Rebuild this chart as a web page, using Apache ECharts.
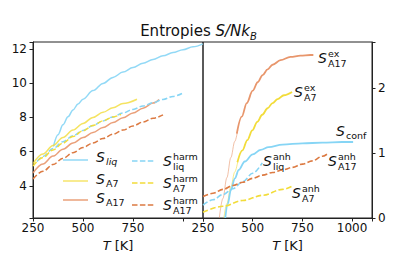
<!DOCTYPE html>
<html><head><meta charset="utf-8">
<script src="https://cdn.jsdelivr.net/npm/echarts@6/dist/echarts.min.js"></script>
<style>html,body{margin:0;padding:0;background:#fff}#c{width:397px;height:264px}</style>
</head><body><div id="c"></div>
<script>
// ---------- Left panel: total entropies ----------
const liqT = [352, 375, 400, 425, 450, 475, 500, 550, 600, 650, 700, 750, 800, 850, 900, 950, 1000, 1050, 1100];
const liqS = [6.3, 6.99, 7.57, 8.04, 8.44, 8.78, 9.07, 9.57, 9.99, 10.34, 10.65, 10.92, 11.17, 11.39, 11.6, 11.79, 11.96, 12.13, 12.3];
const a7T = [250, 300, 350, 400, 450, 500, 550, 600, 650, 700, 770];
const a7S = [5.3, 5.86, 6.36, 6.83, 7.26, 7.65, 8.0, 8.3, 8.57, 8.81, 9.06];
const a17T = [250, 300, 350, 400, 450, 500, 550, 600, 650, 700, 750, 800, 850, 880];
const a17S = [4.75, 5.28, 5.74, 6.14, 6.5, 6.82, 7.12, 7.41, 7.7, 7.98, 8.26, 8.54, 8.84, 9.04];
const liqHarmT = [270, 300, 350, 400, 450, 500, 550, 600, 650, 700, 750, 800, 850, 900, 950, 995];
const liqHarmS = [5.42, 5.72, 6.18, 6.58, 6.93, 7.24, 7.53, 7.79, 8.03, 8.26, 8.47, 8.67, 8.86, 9.05, 9.23, 9.4];
const a7HarmT = [250, 300, 350, 400, 450, 500, 550, 600, 650, 690];
const a7HarmS = [5.15, 5.66, 6.1, 6.5, 6.88, 7.22, 7.53, 7.8, 8.03, 8.18];
const a17HarmT = [250, 300, 350, 400, 450, 500, 550, 600, 650, 700, 750, 800, 850, 900];
const a17HarmS = [4.4, 4.85, 5.25, 5.61, 5.94, 6.24, 6.51, 6.77, 7.02, 7.26, 7.5, 7.73, 7.95, 8.15];

// ---------- Right panel: contributions ----------
const a17ExLowT = [332, 350, 370, 390, 410, 425];
const a17ExLowS = [0, 0.3, 0.62, 0.93, 1.18, 1.36];
const a17ExT = [420, 445, 470, 500, 525, 550, 575, 600, 640, 690, 740, 790, 805];
const a17ExS = [1.3, 1.56, 1.77, 1.96, 2.09, 2.2, 2.29, 2.36, 2.43, 2.48, 2.5, 2.51, 2.51];
const a7ExLowT = [355, 370, 390, 410, 425];
const a7ExLowS = [0, 0.22, 0.48, 0.71, 0.87];
const a7ExT = [423, 448, 473, 498, 523, 548, 575, 600, 625, 657, 698];
const a7ExS = [0.86, 1.04, 1.2, 1.35, 1.48, 1.59, 1.69, 1.77, 1.83, 1.89, 1.94];
const confT = [362, 375, 390, 410, 430, 460, 500, 540, 580, 650, 750, 850, 950, 1005];
const confS = [0, 0.22, 0.43, 0.61, 0.74, 0.87, 0.98, 1.05, 1.09, 1.13, 1.15, 1.16, 1.17, 1.17];
const liqAnhT = [250, 300, 350, 400, 450, 500, 548];
const liqAnhS = [0.2, 0.28, 0.36, 0.45, 0.56, 0.69, 0.85];
const a17AnhT = [250, 300, 350, 400, 450, 500, 550, 600, 650, 700, 750, 800, 850, 882];
const a17AnhS = [0.33, 0.38, 0.44, 0.5, 0.55, 0.61, 0.66, 0.7, 0.74, 0.78, 0.83, 0.88, 0.95, 1.0];
const a7AnhT = [250, 350, 450, 550, 650, 698];
const a7AnhS = [0.09, 0.18, 0.27, 0.35, 0.44, 0.49];

const xTicks = [250, 500, 750, 1000];
const yLeftTicks = [4, 6, 8, 10, 12];
const yRightTicks = [0, 1, 2];

const CYAN = '#86d5f5', YEL = '#f2dc3a', ORS = '#e8966c', ORD = '#dc7a42';
const FONT = '"DejaVu Sans", sans-serif';
const zip = (a, b) => a.map((t, i) => [t, b[i]]);

function line(name, T, S, color, dashed, axis, width, opacity) {
  return {
    name, type: 'line', data: zip(T, S), xAxisIndex: axis, yAxisIndex: axis,
    showSymbol: false, symbol: 'none', smooth: 0.35, smoothMonotone: 'x', clip: true,
    lineStyle: { color, width: width || 1.6, type: dashed ? [5.5, 2.4] : 'solid', opacity: opacity == null ? 1 : opacity },
    emphasis: { disabled: true }, silent: true, z: 3
  };
}

const axisCommon = {
  axisLine: { show: true, onZero: false, lineStyle: { color: '#222', width: 1 } },
  axisTick: { show: true, inside: false, length: 3.5, lineStyle: { color: '#222', width: 1 } },
  splitLine: { show: false },
};
function xAx(idx, hide) {
  return Object.assign({}, axisCommon, {
    type: 'value', gridIndex: idx, min: 250, max: 1100, interval: 250,
    axisLabel: { fontSize: 12, color: '#111', fontFamily: FONT, margin: 4,
      formatter: v => (xTicks.includes(v) && !(hide && hide.includes(v))) ? String(v) : '' },
    name: '{i|T} [K]', nameLocation: 'middle', nameGap: 20,
    nameTextStyle: { fontSize: 13, color: '#111', fontFamily: FONT, rich: { i: { fontStyle: 'italic', fontSize: 13, fontFamily: FONT, color: '#111' } } }
  });
}

function sLabel(x, y, sub, sup, subItalic) {
  const out = [{ type: 'text', x, y, silent: true, style: { text: 'S', fontSize: 14, fontStyle: 'italic', fontFamily: FONT, fill: '#111', verticalAlign: 'middle', align: 'left' } }];
  if (sup) out.push({ type: 'text', x: x + 10, y: y - 5, silent: true, style: { text: sup, fontSize: 9.5, fontFamily: FONT, fill: '#111', verticalAlign: 'middle', align: 'left' } });
  if (sub) out.push({ type: 'text', x: x + 10, y: y + (sup ? 5 : 4), silent: true, style: { text: sub, fontSize: 9.5, fontStyle: subItalic ? 'italic' : 'normal', fontFamily: FONT, fill: '#111', verticalAlign: 'middle', align: 'left' } });
  return out;
}
function legLine(x1, x2, y, color, dashed, opacity) {
  return { type: 'line', silent: true, shape: { x1, y1: y, x2, y2: y }, style: { stroke: color, lineWidth: 1.6, lineDash: dashed ? [5.5, 2.4] : null, opacity: opacity == null ? 1 : opacity } };
}

const graphics = [].concat(
  [legLine(63, 88, 160, CYAN, false, 0.85), legLine(63, 88, 181, YEL, false, 0.7), legLine(63, 88, 200, ORS, false, 0.85)],
  sLabel(96, 157, 'liq', null, true), sLabel(96, 179, 'A7', null), sLabel(96, 198, 'A17', null),
  [legLine(132, 155, 161, CYAN, true), legLine(132, 155, 183, YEL, true), legLine(132, 155, 205, ORD, true)],
  sLabel(163, 161, 'liq', 'harm'), sLabel(163, 183, 'A7', 'harm'), sLabel(163, 205, 'A17', 'harm'),
  sLabel(318, 58, 'A17', 'ex'), sLabel(294, 92, 'A7', 'ex'), sLabel(336, 131, 'conf', null),
  sLabel(263, 161, 'liq', 'anh'), sLabel(328, 161, 'A17', 'anh'), sLabel(292, 193, 'A7', 'anh')
);

const option = {
  animation: false,
  backgroundColor: '#fff',
  title: {
    text: '{a|Entropies }{b|S/Nk}{c|B}', left: 'center', top: 21, padding: 0,
    textStyle: { fontWeight: 'normal', rich: {
      a: { fontSize: 15, fontWeight: 'normal', fontFamily: FONT, color: '#111', lineHeight: 20, verticalAlign: 'middle' },
      b: { fontSize: 15, fontWeight: 'normal', fontFamily: FONT, fontStyle: 'italic', color: '#111', lineHeight: 20, verticalAlign: 'middle' },
      c: { fontSize: 10, fontWeight: 'normal', fontFamily: FONT, fontStyle: 'italic', color: '#111', lineHeight: 10, verticalAlign: 'bottom' }
    } }
  },
  grid: [
    { left: 33, top: 42, width: 170, height: 176, show: true, borderColor: '#222', borderWidth: 1, backgroundColor: 'transparent', containLabel: false, outerBoundsMode: 'none' },
    { left: 203, top: 42, width: 169, height: 176, show: true, borderColor: '#222', borderWidth: 1, backgroundColor: 'transparent', containLabel: false, outerBoundsMode: 'none' }
  ],
  xAxis: [xAx(0, [1000]), xAx(1, null)],
  yAxis: [
    Object.assign({}, axisCommon, {
      type: 'value', gridIndex: 0, min: 2.12, max: 12.41, splitNumber: 5, position: 'left',
      axisLabel: { fontSize: 12, color: '#111', fontFamily: FONT, margin: 6,
        formatter: v => { const r = Math.round(v); return (Math.abs(v - r) < 1e-6 && yLeftTicks.includes(r)) ? String(r) : ''; } }
    }),
    Object.assign({}, axisCommon, {
      type: 'value', gridIndex: 1, min: 0, max: 2.71, interval: 1, position: 'right',
      axisLabel: { fontSize: 12, color: '#111', fontFamily: FONT, margin: 6,
        formatter: v => { const r = Math.round(v); return (Math.abs(v - r) < 1e-6 && yRightTicks.includes(r)) ? String(r) : ''; } }
    })
  ],
  graphic: graphics,
  series: [
    line('S_liq', liqT, liqS, CYAN, false, 0, 1.5, 0.9),
    line('S_A7', a7T, a7S, YEL, false, 0, 1.5, 0.8),
    line('S_A17', a17T, a17S, ORS, false, 0, 1.5, 0.9),
    line('S_liq_harm', liqHarmT, liqHarmS, CYAN, true, 0, 1.5),
    line('S_A7_harm', a7HarmT, a7HarmS, YEL, true, 0, 1.5),
    line('S_A17_harm', a17HarmT, a17HarmS, ORD, true, 0, 1.5),
    line('S_A17_ex_low', a17ExLowT, a17ExLowS, ORS, false, 1, 1, 0.6),
    line('S_A17_ex', a17ExT, a17ExS, ORS, false, 1, 1.8),
    line('S_A7_ex_low', a7ExLowT, a7ExLowS, YEL, false, 1, 1, 0.6),
    line('S_A7_ex', a7ExT, a7ExS, YEL, false, 1, 1.8),
    line('S_conf', confT, confS, CYAN, false, 1, 1.8),
    line('S_liq_anh', liqAnhT, liqAnhS, CYAN, true, 1, 1.6),
    line('S_A17_anh', a17AnhT, a17AnhS, ORD, true, 1, 1.6),
    line('S_A7_anh', a7AnhT, a7AnhS, YEL, true, 1, 1.6)
  ]
};
const chart = echarts.init(document.getElementById('c'), null, { renderer: 'svg' });
chart.setOption(option);
</script>
</body></html>
